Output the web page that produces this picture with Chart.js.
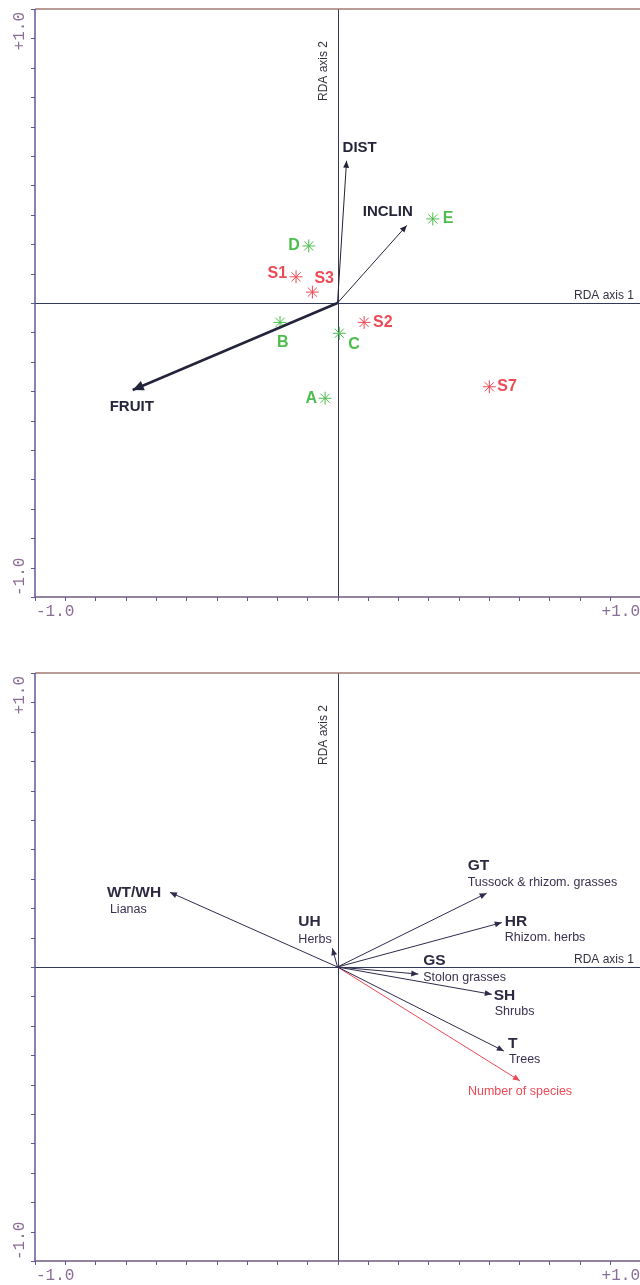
<!DOCTYPE html>
<html>
<head>
<meta charset="utf-8">
<title>RDA ordination diagrams</title>
<script src="https://cdn.jsdelivr.net/npm/chart.js@4.4.1/dist/chart.umd.min.js"></script>
<style>
  html, body { margin: 0; padding: 0; background: #ffffff; }
  #wrap { position: relative; width: 640px; height: 1285px; overflow: hidden; }
  canvas { position: absolute; left: 0; }
  #rdaEnv { top: 0; }
  #rdaLife { top: 640px; }
</style>
</head>
<body>
<div id="wrap">
  <canvas id="rdaEnv" width="640" height="640"></canvas>
  <canvas id="rdaLife" width="640" height="645"></canvas>
</div>
<script>
// ---- Upper diagram: explanatory variables, sites and groups ----
const envNames = ['DIST', 'INCLIN', 'FRUIT'];
const envAxis1 = [0.030, 0.229, -0.677];
const envAxis2 = [0.484, 0.264, -0.296];

const siteNames = ['S1', 'S2', 'S3', 'S7'];
const siteAxis1 = [-0.137, 0.088, -0.083, 0.502];
const siteAxis2 = [0.089, -0.066, 0.037, -0.285];

const groupNames = ['A', 'B', 'C', 'D', 'E'];
const groupAxis1 = [-0.041, -0.190, 0.006, -0.095, 0.315];
const groupAxis2 = [-0.324, -0.066, -0.103, 0.194, 0.286];

// ---- Lower diagram: life-form response vectors ----
const lifeCodes = ['WT/WH', 'UH', 'GT', 'HR', 'GS', 'SH', 'T'];
const lifeNames = ['Lianas', 'Herbs', 'Tussock & rhizom. grasses', 'Rhizom. herbs', 'Stolon grasses', 'Shrubs', 'Trees'];
const lifeAxis1 = [-0.554, -0.017, 0.493, 0.543, 0.267, 0.510, 0.550];
const lifeAxis2 = [0.254, 0.064, 0.251, 0.151, -0.024, -0.093, -0.286];

const richnessNames = ['Number of species'];
const richnessAxis1 = [0.603];
const richnessAxis2 = [-0.387];

// ---- Axes ----
const axisRange = [-1, 1];
const tickStep = 0.1;
const tickLabels = ['-1.0', '+1.0'];
const axisTitles = ['RDA axis 1', 'RDA axis 2'];

// ---- Styling ----
const SANS = '"Liberation Sans", Arial, Helvetica, sans-serif';
const MONO = '"Liberation Mono", "Courier New", monospace';
const RED = '#ec4a55';
const GREEN = '#4dbd4d';
const INK = '#23233a';
const LIFE_INK = '#2e2b4c';

// label placement (pixel offsets from the plotted point)
const envLabelPos = {
  DIST:   { dx: -4,  dy: -13, align: 'left' },
  INCLIN: { dx: -44, dy: -14, align: 'left' },
  FRUIT:  { dx: -23, dy: 17,  align: 'left' }
};
const siteLabelPos = {
  S1: { dx: -9, dy: -3,  align: 'right' },
  S2: { dx: 9,  dy: 0,   align: 'left' },
  S3: { dx: 2,  dy: -14, align: 'left' },
  S7: { dx: 8,  dy: 0,   align: 'left' }
};
const groupLabelPos = {
  A: { dx: -8, dy: 0,  align: 'right' },
  B: { dx: -3, dy: 20, align: 'left' },
  C: { dx: 9,  dy: 11, align: 'left' },
  D: { dx: -9, dy: 0,  align: 'right' },
  E: { dx: 10, dy: 0,  align: 'left' }
};
const lifeLabelPos = {
  'WT/WH': { cx: -63, cy: 0,   nx: -60, ny: 17 },
  'UH':    { cx: -34, cy: -26, nx: -34, ny: -9 },
  'GT':    { cx: -19, cy: -27, nx: -19, ny: -11 },
  'HR':    { cx: 3,   cy: -1,  nx: 3,   ny: 15 },
  'GS':    { cx: 5,   cy: -13, nx: 5,   ny: 3 },
  'SH':    { cx: 2,   cy: 1,   nx: 3,   ny: 17 },
  'T':     { cx: 4,   cy: -7,  nx: 5,   ny: 8 }
};
const richnessLabelPos = { dx: -52, dy: 11 };

function vectorDataset(x, y, color, width) {
  return {
    type: 'line',
    data: [{ x: 0, y: 0 }, { x: x, y: y }],
    borderColor: color,
    borderWidth: width,
    pointRadius: 0,
    showLine: true,
    fill: false,
    tension: 0
  };
}

function starDataset(xs, ys, color) {
  return {
    type: 'scatter',
    data: xs.map((v, i) => ({ x: v, y: ys[i] })),
    pointStyle: 'star',
    pointRadius: 6.5,
    pointBorderColor: color,
    pointBackgroundColor: color,
    pointBorderWidth: 1,
    showLine: false
  };
}

// frame, ticks, zero lines, axis titles and end labels
const frameAxes = {
  id: 'frameAxes',
  beforeDatasetsDraw(chart) {
    const ctx = chart.ctx;
    const xs = chart.scales.x, ys = chart.scales.y;
    const L = xs.getPixelForValue(axisRange[0]);
    const R = xs.getPixelForValue(axisRange[1]);
    const T = ys.getPixelForValue(axisRange[1]);
    const B = ys.getPixelForValue(axisRange[0]);
    const x0 = xs.getPixelForValue(0);
    const y0 = ys.getPixelForValue(0);
    ctx.save();

    // zero axes
    ctx.strokeStyle = '#34385a';
    ctx.lineWidth = 1;
    ctx.beginPath();
    ctx.moveTo(Math.round(x0) + 0.5, T);
    ctx.lineTo(Math.round(x0) + 0.5, B);
    ctx.moveTo(L, Math.round(y0) + 0.5);
    ctx.lineTo(R, Math.round(y0) + 0.5);
    ctx.stroke();

    // frame
    ctx.lineWidth = 1.5;
    ctx.strokeStyle = '#a07a72';
    ctx.beginPath();
    ctx.moveTo(L, T); ctx.lineTo(R, T);
    ctx.stroke();
    ctx.strokeStyle = '#62599a';
    ctx.beginPath();
    ctx.moveTo(L, T); ctx.lineTo(L, B);
    ctx.stroke();
    ctx.strokeStyle = '#6e5a84';
    ctx.beginPath();
    ctx.moveTo(L, B); ctx.lineTo(R, B);
    ctx.stroke();

    // ticks every 0.1
    ctx.lineWidth = 1;
    ctx.strokeStyle = '#5e5a8e';
    ctx.beginPath();
    const n = Math.round((axisRange[1] - axisRange[0]) / tickStep);
    for (let i = 0; i <= n; i++) {
      const v = axisRange[0] + i * tickStep;
      const px = Math.round(xs.getPixelForValue(v)) + 0.5;
      const py = Math.round(ys.getPixelForValue(v)) + 0.5;
      ctx.moveTo(px, B); ctx.lineTo(px, B + 4);
      ctx.moveTo(L, py); ctx.lineTo(L - 4, py);
    }
    ctx.stroke();

    // end labels
    ctx.font = '16px ' + MONO;
    ctx.fillStyle = '#8a6c98';
    ctx.textBaseline = 'middle';
    ctx.textAlign = 'left';
    ctx.fillText(tickLabels[0], L + 1, B + 15);
    ctx.textAlign = 'right';
    ctx.fillText(tickLabels[1], R, B + 15);

    ctx.save();
    ctx.translate(19.5, T + 3);
    ctx.rotate(-Math.PI / 2);
    ctx.textAlign = 'right';
    ctx.fillText(tickLabels[1], 0, 0);
    ctx.restore();
    ctx.save();
    ctx.translate(19.5, B - 1);
    ctx.rotate(-Math.PI / 2);
    ctx.textAlign = 'left';
    ctx.fillText(tickLabels[0], 0, 0);
    ctx.restore();

    // axis titles
    ctx.font = '12px ' + SANS;
    ctx.fillStyle = '#333340';
    ctx.textAlign = 'right';
    ctx.fillText(axisTitles[0], R - 6, y0 - 7);
    ctx.save();
    ctx.translate(x0 - 14, T + 92);
    ctx.rotate(-Math.PI / 2);
    ctx.textAlign = 'left';
    ctx.fillText(axisTitles[1], 0, 0);
    ctx.restore();

    ctx.restore();
  }
};

function drawHead(ctx, xs, ys, vx, vy, color, len, half) {
  const ox = xs.getPixelForValue(0), oy = ys.getPixelForValue(0);
  const tx = xs.getPixelForValue(vx), ty = ys.getPixelForValue(vy);
  const a = Math.atan2(ty - oy, tx - ox);
  ctx.save();
  ctx.fillStyle = color;
  ctx.beginPath();
  ctx.moveTo(tx, ty);
  ctx.lineTo(tx - len * Math.cos(a) + half * Math.sin(a), ty - len * Math.sin(a) - half * Math.cos(a));
  ctx.lineTo(tx - len * Math.cos(a) - half * Math.sin(a), ty - len * Math.sin(a) + half * Math.cos(a));
  ctx.closePath();
  ctx.fill();
  ctx.restore();
  return { x: tx, y: ty };
}

function put(ctx, text, x, y, font, color, align) {
  ctx.font = font;
  ctx.fillStyle = color;
  ctx.textAlign = align || 'left';
  ctx.textBaseline = 'middle';
  ctx.fillText(text, x, y);
}

const envMarks = {
  id: 'envMarks',
  afterDatasetsDraw(chart) {
    const ctx = chart.ctx, xs = chart.scales.x, ys = chart.scales.y;
    envNames.forEach((name, i) => {
      const big = name === 'FRUIT';
      const p = drawHead(ctx, xs, ys, envAxis1[i], envAxis2[i], INK, big ? 11 : 7, big ? 5 : 3);
      const o = envLabelPos[name];
      put(ctx, name, p.x + o.dx, p.y + o.dy, 'bold 15px ' + SANS, '#25253a', o.align);
    });
    siteNames.forEach((name, i) => {
      const o = siteLabelPos[name];
      put(ctx, name, xs.getPixelForValue(siteAxis1[i]) + o.dx, ys.getPixelForValue(siteAxis2[i]) + o.dy,
          'bold 16px ' + SANS, RED, o.align);
    });
    groupNames.forEach((name, i) => {
      const o = groupLabelPos[name];
      put(ctx, name, xs.getPixelForValue(groupAxis1[i]) + o.dx, ys.getPixelForValue(groupAxis2[i]) + o.dy,
          'bold 16px ' + SANS, GREEN, o.align);
    });
  }
};

const lifeMarks = {
  id: 'lifeMarks',
  afterDatasetsDraw(chart) {
    const ctx = chart.ctx, xs = chart.scales.x, ys = chart.scales.y;
    lifeCodes.forEach((code, i) => {
      const p = drawHead(ctx, xs, ys, lifeAxis1[i], lifeAxis2[i], LIFE_INK, 7, 3);
      const o = lifeLabelPos[code];
      put(ctx, code, p.x + o.cx, p.y + o.cy, 'bold 15.5px ' + SANS, '#2e2940');
      put(ctx, lifeNames[i], p.x + o.nx, p.y + o.ny, '12.5px ' + SANS, '#3a2f4e');
    });
    richnessNames.forEach((name, i) => {
      const p = drawHead(ctx, xs, ys, richnessAxis1[i], richnessAxis2[i], RED, 7, 3);
      put(ctx, name, p.x + richnessLabelPos.dx, p.y + richnessLabelPos.dy, '12.5px ' + SANS, RED);
    });
  }
};

function baseOptions(padding) {
  return {
    responsive: false,
    animation: false,
    devicePixelRatio: 1,
    layout: { padding: padding, autoPadding: false },
    plugins: { legend: { display: false }, tooltip: { enabled: false } },
    scales: {
      x: { type: 'linear', min: axisRange[0], max: axisRange[1], display: false },
      y: { type: 'linear', min: axisRange[0], max: axisRange[1], display: false }
    }
  };
}

// upper diagram
const envSets = envNames.map((n, i) =>
  vectorDataset(envAxis1[i], envAxis2[i], INK, n === 'FRUIT' ? 2.5 : 1));
envSets.push(starDataset(siteAxis1, siteAxis2, RED));
envSets.push(starDataset(groupAxis1, groupAxis2, GREEN));

new Chart(document.getElementById('rdaEnv'), {
  type: 'scatter',
  data: { datasets: envSets },
  options: baseOptions({ left: 35, right: 0, top: 9, bottom: 43 }),
  plugins: [frameAxes, envMarks]
});

// lower diagram
const lifeSets = lifeCodes.map((c, i) => vectorDataset(lifeAxis1[i], lifeAxis2[i], LIFE_INK, 1));
richnessNames.forEach((n, i) => lifeSets.push(vectorDataset(richnessAxis1[i], richnessAxis2[i], RED, 1)));

new Chart(document.getElementById('rdaLife'), {
  type: 'scatter',
  data: { datasets: lifeSets },
  options: baseOptions({ left: 35, right: 0, top: 33, bottom: 24 }),
  plugins: [frameAxes, lifeMarks]
});
</script>
</body>
</html>
